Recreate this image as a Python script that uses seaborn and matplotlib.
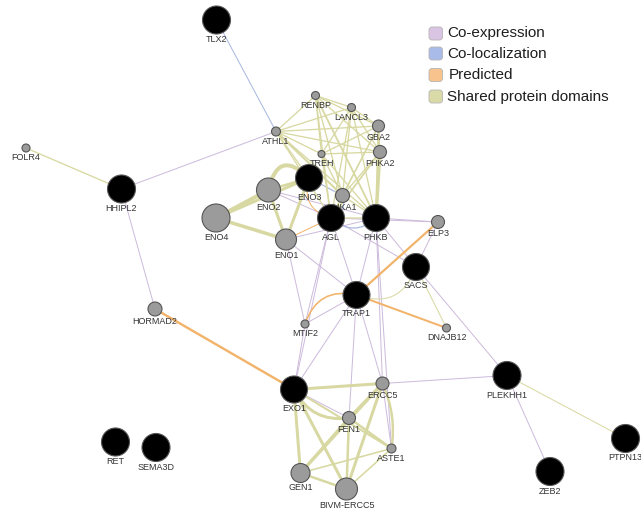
import matplotlib
matplotlib.use("Agg")
import matplotlib.pyplot as plt
from matplotlib.patches import FancyArrowPatch, FancyBboxPatch
import pandas as pd
import seaborn as sns

# ---- network nodes (layout position, radius in px, kind) ----
node_names = ["TLX2", "FOLR4", "HHIPL2", "HORMAD2", "RET", "SEMA3D",
              "ATHL1", "RENBP", "LANCL3", "GBA2", "PHKA2", "TREH",
              "ENO4", "ENO2", "ENO1", "ENO3", "PHKA1", "AGL", "PHKB",
              "ELP3", "SACS", "MTIF2", "TRAP1", "DNAJB12",
              "ERCC5", "FEN1", "ASTE1", "GEN1", "BIVM-ERCC5", "EXO1",
              "PLEKHH1", "PTPN13", "ZEB2"]
node_x = [216.5, 26, 121.5, 155, 115.5, 156,
          276, 315.5, 351.5, 378.5, 380, 321.5,
          216, 268.5, 286, 309, 342.5, 331, 376,
          438, 416, 305, 356.5, 446.5,
          382.5, 349, 391.5, 300.5, 346.5, 294,
          507, 625.5, 550]
node_y = [20, 148, 189, 309, 442, 447.5,
          131.5, 95.5, 107.5, 126, 152, 154,
          218, 190, 239.5, 178, 195.5, 218, 218,
          222, 267, 324, 295, 328,
          383.5, 418, 448.5, 473, 489, 389.5,
          375.5, 438.5, 471.5]
node_r = [14, 4, 14, 7, 14, 14,
          4.5, 4, 4, 6, 6.5, 3.5,
          14, 12, 10.5, 13.5, 7, 13.5, 13.5,
          6.5, 13.5, 4, 13.5, 4,
          6.5, 6.5, 4.5, 9.5, 11, 13.5,
          14, 14, 14]
node_kind = ["query", "related", "query", "related", "query", "query",
             "related", "related", "related", "related", "related", "related",
             "related", "related", "related", "query", "related", "query", "query",
             "related", "query", "related", "query", "related",
             "related", "related", "related", "related", "related", "query",
             "query", "query", "query"]

# ---- edges: (source, target, width px, curvature) per network type ----
top_cluster = ["ATHL1", "RENBP", "LANCL3", "GBA2", "PHKA2", "TREH", "PHKA1", "AGL", "PHKB"]
thick_top = {("PHKA2", "PHKB"): 3.2, ("GBA2", "PHKB"): 2.0, ("ATHL1", "PHKA1"): 2.0,
             ("PHKA2", "AGL"): 1.8, ("RENBP", "PHKB"): 1.8}
shared_domain_edges = []
for i, a in enumerate(top_cluster):
    for b in top_cluster[i + 1:]:
        shared_domain_edges.append((a, b, thick_top.get((a, b), 1.3), 0.0))
shared_domain_edges += [
    ("FOLR4", "HHIPL2", 1.3, 0.0),
    ("ENO2", "ENO3", 4.0, -0.9),
    ("ENO2", "ENO3", 2.5, 0.0),
    ("ENO4", "ENO2", 4.0, 0.0),
    ("ENO4", "ENO3", 3.0, 0.0),
    ("ENO4", "ENO1", 3.5, 0.0),
    ("ENO2", "ENO1", 3.0, 0.0),
    ("ENO3", "ENO1", 3.0, 0.0),
    ("ATHL1", "ENO3", 1.3, 0.0),
    ("EXO1", "ERCC5", 3.0, 0.0),
    ("EXO1", "FEN1", 3.0, 0.35),
    ("EXO1", "GEN1", 3.0, 0.0),
    ("EXO1", "BIVM-ERCC5", 3.0, 0.0),
    ("EXO1", "ASTE1", 2.0, 0.0),
    ("ERCC5", "FEN1", 3.0, 0.0),
    ("ERCC5", "GEN1", 3.0, 0.0),
    ("ERCC5", "BIVM-ERCC5", 3.0, 0.0),
    ("ERCC5", "ASTE1", 2.5, -0.15),
    ("FEN1", "GEN1", 3.0, 0.0),
    ("FEN1", "BIVM-ERCC5", 2.5, 0.0),
    ("FEN1", "ASTE1", 2.5, 0.0),
    ("GEN1", "ASTE1", 1.6, 0.0),
    ("GEN1", "BIVM-ERCC5", 2.5, 0.0),
    ("BIVM-ERCC5", "ASTE1", 1.6, 0.0),
    ("SACS", "DNAJB12", 1.0, 0.0),
    ("PLEKHH1", "PTPN13", 1.0, 0.0),
    ("TRAP1", "SACS", 1.0, 0.5),
]
coexpression_edges = [
    ("ATHL1", "HHIPL2", 1.0, 0.0),
    ("HHIPL2", "HORMAD2", 1.0, 0.0),
    ("SACS", "PLEKHH1", 1.0, 0.0),
    ("PLEKHH1", "ZEB2", 1.0, 0.0),
    ("ERCC5", "PLEKHH1", 1.0, 0.0),
    ("ENO2", "PHKB", 1.0, 0.0),
    ("ENO2", "AGL", 1.0, 0.0),
    ("ENO1", "PHKB", 1.0, 0.0),
    ("AGL", "ELP3", 1.0, 0.0),
    ("PHKB", "ELP3", 1.0, 0.0),
    ("ELP3", "SACS", 1.0, 0.0),
    ("AGL", "TRAP1", 1.0, 0.0),
    ("AGL", "MTIF2", 1.0, 0.0),
    ("PHKB", "TRAP1", 1.0, 0.0),
    ("PHKB", "SACS", 1.0, 0.0),
    ("AGL", "SACS", 1.0, 0.0),
    ("TRAP1", "EXO1", 1.0, 0.0),
    ("TRAP1", "ERCC5", 1.0, 0.0),
    ("TRAP1", "FEN1", 1.0, 0.0),
    ("TRAP1", "MTIF2", 1.0, 0.0),
    ("MTIF2", "EXO1", 1.0, 0.0),
    ("AGL", "EXO1", 1.0, 0.0),
    ("PHKB", "ASTE1", 1.0, 0.0),
    ("PHKB", "ERCC5", 1.0, 0.0),
    ("ENO1", "TRAP1", 1.0, 0.0),
    ("EXO1", "FEN1", 1.0, 0.0),
    ("ERCC5", "ASTE1", 1.0, 0.0),
    ("ENO1", "MTIF2", 1.0, 0.0),
]
colocalization_edges = [
    ("TLX2", "ATHL1", 1.0, 0.0),
    ("ENO3", "PHKA1", 1.2, 0.0),
    ("AGL", "PHKB", 1.2, 0.45),
    ("PHKA1", "AGL", 1.0, -0.5),
]
predicted_edges = [
    ("HORMAD2", "EXO1", 2.4, 0.0),
    ("TRAP1", "ELP3", 2.2, 0.0),
    ("TRAP1", "DNAJB12", 2.0, 0.0),
    ("MTIF2", "TRAP1", 1.6, -0.45),
    ("ENO1", "AGL", 1.0, 0.0),
    ("ENO3", "AGL", 1.0, 0.5),
]

legend_labels = ["Co-expression", "Co-localization", "Predicted", "Shared protein domains"]
edge_colors = {"Co-expression": "#cdbbdc", "Co-localization": "#a7b7df",
               "Predicted": "#f2b36a", "Shared protein domains": "#d8d8a2"}
legend_fill = {"Co-expression": "#dac4e4", "Co-localization": "#a9bbe8",
               "Predicted": "#f8c38c", "Shared protein domains": "#dadaa8"}

nodes = pd.DataFrame({"name": node_names, "x": node_x, "y": node_y,
                      "r": node_r, "kind": node_kind})
pos = {n: (x, y) for n, x, y in zip(node_names, node_x, node_y)}

sns.set_theme(style="white")
plt.rcParams["font.family"] = ["Liberation Sans", "DejaVu Sans"]

DPI = 100
fig = plt.figure(figsize=(6.41, 5.13), dpi=DPI)
ax = fig.add_axes([0, 0, 1, 1])
ax.set_xlim(0, 641)
ax.set_ylim(513, 0)
ax.axis("off")

px = 72.0 / DPI  # one pixel in points


def draw_edges(edges, color, z):
    for a, b, w, rad in edges:
        patch = FancyArrowPatch(pos[a], pos[b], arrowstyle="-",
                                connectionstyle=f"arc3,rad={rad}",
                                linewidth=w * px, color=color,
                                shrinkA=0, shrinkB=0, zorder=z,
                                capstyle="round")
        ax.add_patch(patch)


draw_edges(coexpression_edges, edge_colors["Co-expression"], 1)
draw_edges(colocalization_edges, edge_colors["Co-localization"], 1.2)
draw_edges(shared_domain_edges, edge_colors["Shared protein domains"], 1.4)
draw_edges(predicted_edges, edge_colors["Predicted"], 1.6)

# node circles, area in points^2 from pixel radius
size_levels = {r: (2 * r * px) ** 2 for r in sorted(set(node_r))}
sns.scatterplot(data=nodes, x="x", y="y", hue="kind", size="r",
                sizes=size_levels,
                palette={"query": "#000000", "related": "#9b9b9b"},
                edgecolor="#555555", linewidth=0.8, legend=False,
                ax=ax, zorder=4)

# gene labels under each node
for n, x, y, r in zip(node_names, node_x, node_y, node_r):
    ax.text(x, y + r + 5.5, n, ha="center", va="center", fontsize=6.5,
            color="#333333", zorder=3)

# network-type legend
box_y = [33.5, 53.5, 75, 96.5]
text_x = [447, 447, 449, 447]
for lab, yy, tx in zip(legend_labels, box_y, text_x):
    ax.add_patch(FancyBboxPatch((429, yy - 6.5), 13.5, 13,
                                boxstyle="round,pad=0,rounding_size=3",
                                facecolor=legend_fill[lab],
                                edgecolor="#b5b5b5", linewidth=0.6, zorder=5))
    ax.text(tx, yy, lab, ha="left", va="center", fontsize=11,
            color="#1e1e1e", zorder=5)

fig.savefig("out.png", dpi=DPI)
